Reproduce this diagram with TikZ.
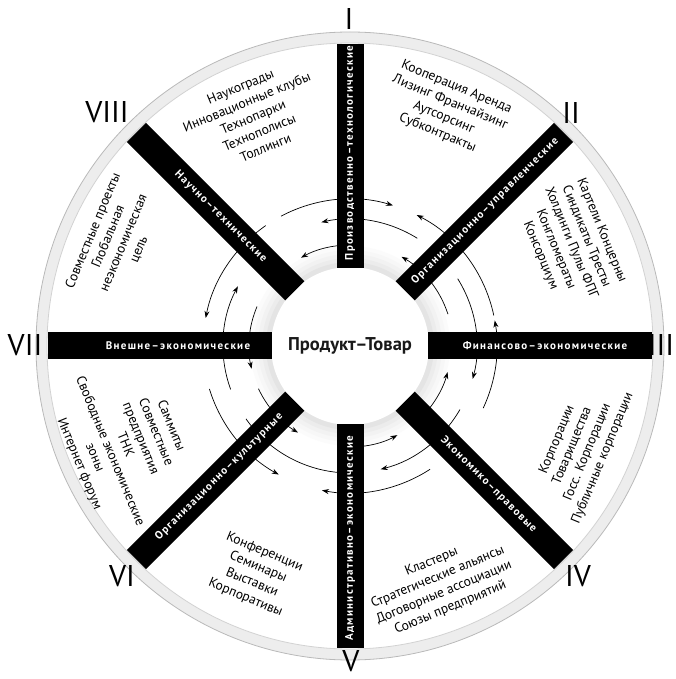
\documentclass[tikz,border=0pt]{standalone}
\usepackage{fontspec}
\setmainfont{PT Sans}
\newfontfamily\barfont[LetterSpace=12]{PT Sans}
\usetikzlibrary{arrows.meta}
\begin{document}
\begin{tikzpicture}[x=1pt,y=1pt,
  barlbl/.style={text=white,font=\barfont\bfseries\fontsize{11}{13}\selectfont,inner sep=0pt,anchor=center},
  sect/.style={align=center,font=\fontsize{13.5}{16.5}\selectfont,inner sep=0pt},
  numeral/.style={font=\fontsize{30}{30}\selectfont,inner sep=0pt},
  warc/.style={line width=0.7pt},
  wtip/.style={warc,-{Stealth[length=7pt,width=5pt]}}]
\useasboundingbox (-350,-333) rectangle (326,346);
% outer ring
\fill[gray!14] (0,0) circle (314);
\draw[gray!55,line width=0.8pt] (0,0) circle (314);
\fill[white] (0,0) circle (303);
\draw[gray!35,line width=0.8pt] (0,0) circle (303);
% halo round the centre
\foreach \r/\c in {100/3,96/6,92/10,88/15,84/21}{\fill[gray!\c] (0,0) circle (\r);}
\fill[white] (0,0) circle (79);
% arcs with arrows
% outer
\draw[wtip] (118:147) arc[start angle=118,end angle=73,radius=147];
\draw[wtip] (125:147) arc[start angle=125,end angle=169,radius=147];
\draw[wtip] (12:147) arc[start angle=12,end angle=63,radius=147];
\draw[wtip] (-25:147) arc[start angle=-25,end angle=10,radius=147];
\draw[wtip] (-57:147) arc[start angle=-57,end angle=-101,radius=147];
\draw[wtip] (197:147) arc[start angle=197,end angle=241,radius=147];
% middle
\draw[wtip] (58:127) arc[start angle=58,end angle=103,radius=127];
\draw[wtip] (32:127) arc[start angle=32,end angle=-15,radius=127];
\draw[wtip] (-30:127) arc[start angle=-30,end angle=-76,radius=127];
\draw[wtip] (200:127) arc[start angle=200,end angle=152,radius=127];
\draw[warc] (215:127) arc[start angle=215,end angle=265,radius=127];
% inner
\draw[wtip] (88:101) arc[start angle=88,end angle=119,radius=101];
\draw[wtip] (18:103) arc[start angle=18,end angle=60,radius=103];
\draw[wtip] (-40:101) arc[start angle=-40,end angle=-15,radius=101];
\draw[wtip] (-95:101) arc[start angle=-95,end angle=-62,radius=101];
\draw[wtip] (205:101) arc[start angle=205,end angle=239,radius=101];
\draw[wtip] (157:101) arc[start angle=157,end angle=193,radius=101];
% bars
\foreach \a in {90,45,0,-45,-90,-135,180,135}{\fill[black,rotate=\a] (78,-13.5) rectangle (302,13.5);}
% bar labels
\node[barlbl,rotate=90] (b1) at (90:193) {Производственно–технологические};
\node[barlbl,rotate=45] (b2) at (45:191) {Организационно–управленческие};
\node[barlbl] (b3) at (0:195) {Финансово–экономические};
\node[barlbl,rotate=-45] (b4) at (-45:196) {Экономико–правовые};
\node[barlbl,rotate=90] (b5) at (-90:192) {Административно–экономические};
\node[barlbl,rotate=45] (b6) at (-135:185) {Организационно–культурные};
\node[barlbl] (b7) at (180:172) {Внешне–экономические};
\node[barlbl,rotate=-45] (b8) at (135:183) {Научно–технические};
% centre
\node[font=\bfseries\fontsize{18.5}{22}\selectfont,text=black!90] (center) at (0,0) {Продукт–Товар};
% numerals
\node[numeral] (n1) at (-1,327) {I};
\node[numeral] (n2) at (221,233) {II};
\node[numeral] (n3) at (311,1) {III};
\node[numeral] (n4) at (228,-230) {IV};
\node[numeral] (n5) at (1,-315) {V};
\node[numeral] (n6) at (-228,-230) {VI};
\node[numeral] (n7) at (-325,1) {VII};
\node[numeral] (n8) at (-243,234) {VIII};
% sector texts
\node[sect,rotate=-22.5] (s12) at (97,236) {Кооперация Аренда\\Лизинг Франчайзинг\\Аутсорсинг\\Субконтракты};
\node[sect,rotate=-67.5] (s23) at (221,103) {Картели Концерны\\Синдикаты Тресты\\Холдинги Пулы ФПГ\\Конгломераты\\Консорциум};
\node[sect,rotate=67.5] (s34) at (230,-103) {Корпорации\\Товарищества\\Госс. Корпорации\\Публичные корпорации};
\node[sect,rotate=22.5] (s45) at (91,-239) {Кластеры\\Стратегические альянсы\\Договорные ассоциации\\Союзы предприятий};
\node[sect,rotate=-22.5] (s56) at (-95,-229) {Конференции\\Семинары\\Выставки\\Корпоративы};
\node[sect,rotate=-67.5] (s67) at (-225,-99) {Саммиты\\Совместные\\предприятия\\ТНК\\Свободные экономические\\зоны\\Интернет форум};
\node[sect,rotate=67.5] (s78) at (-234,106) {Совместные проекты\\Глобальная\\неэкономическая\\цель};
\node[sect,rotate=22.5] (s81) at (-97,229) {Наукограды\\Инновационные клубы\\Технопарки\\Технополисы\\Толлинги};
\end{tikzpicture}
\end{document}
